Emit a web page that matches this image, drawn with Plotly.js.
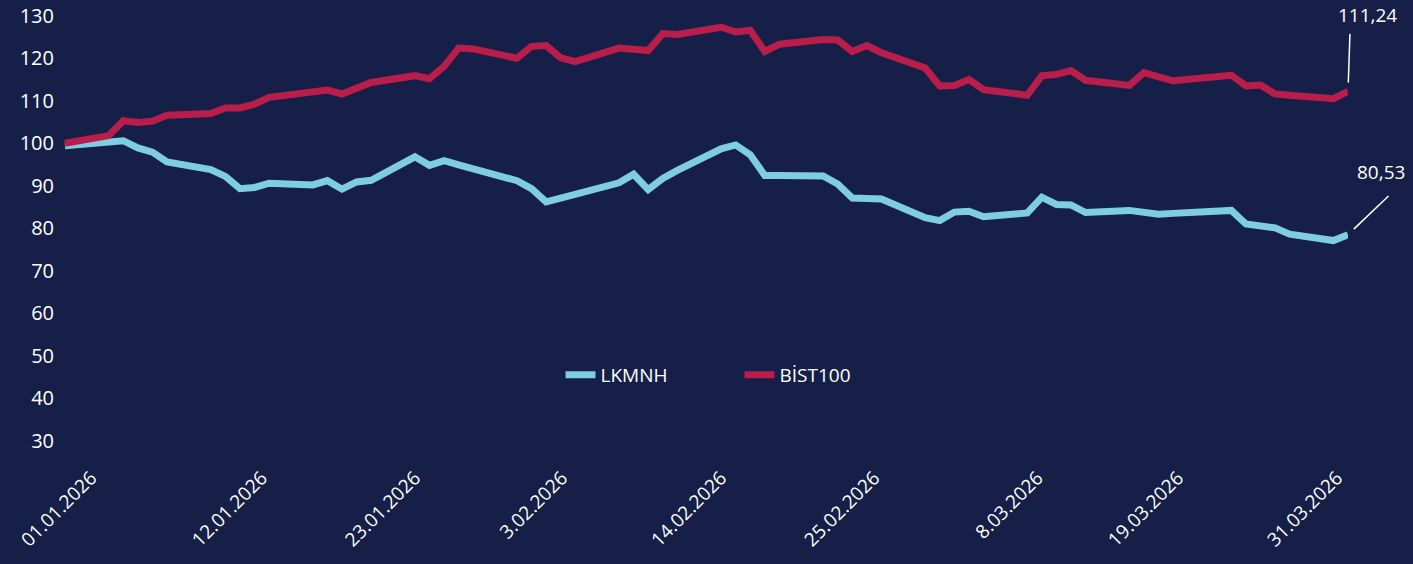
<!DOCTYPE html>
<html>
<head>
<meta charset="utf-8">
<script src="https://cdn.plot.ly/plotly-3.0.1.min.js"></script>
<style>
  html, body { margin: 0; padding: 0; background: #151f48; }
  #myPlot { width: 1413px; height: 564px; }
</style>
</head>
<body>
<div id="myPlot"></div>
<script>
// trading days, 2 Jan - 31 Mar 2026
let dates = [
    '2026-01-02','2026-01-05','2026-01-06','2026-01-07','2026-01-08','2026-01-09',
    '2026-01-12','2026-01-13','2026-01-14','2026-01-15','2026-01-16',
    '2026-01-19','2026-01-20','2026-01-21','2026-01-22','2026-01-23',
    '2026-01-26','2026-01-27','2026-01-28','2026-01-29','2026-01-30',
    '2026-02-02','2026-02-03','2026-02-04','2026-02-05','2026-02-06',
    '2026-02-09','2026-02-10','2026-02-11','2026-02-12','2026-02-13',
    '2026-02-16','2026-02-17','2026-02-18','2026-02-19','2026-02-20',
    '2026-02-23','2026-02-24','2026-02-25','2026-02-26','2026-02-27',
    '2026-03-02','2026-03-03','2026-03-04','2026-03-05','2026-03-06',
    '2026-03-09','2026-03-10','2026-03-11','2026-03-12','2026-03-13',
    '2026-03-16','2026-03-17','2026-03-18','2026-03-19',
    '2026-03-23','2026-03-24','2026-03-25','2026-03-26','2026-03-27',
    '2026-03-30','2026-03-31'
];
let lkmnh = [
    99.4, 100.2, 100.6, 98.9, 97.9, 95.6,
    93.8, 92.2, 89.3, 89.6, 90.6,
    90.2, 91.2, 89.2, 90.9, 91.3,
    96.8, 94.8, 95.9, 94.9, 93.9,
    91.2, 89.3, 86.2, 87.1, 88.0,
    90.7, 92.7, 89.1, 91.7, 93.6,
    98.7, 99.6, 97.3, 92.4, 92.4,
    92.3, 90.4, 87.1, 87.0, 86.9,
    82.5, 81.8, 83.8, 84.0, 82.7,
    83.6, 87.3, 85.6, 85.5, 83.7,
    84.2, 83.8, 83.3, 83.5,
    84.2, 81.0, 80.5, 80.1, 78.6,
    77.1, 78.5
];
let bist100 = [
    100.0, 101.8, 105.3, 104.9, 105.2, 106.6,
    107.0, 108.3, 108.3, 109.2, 110.8,
    112.0, 112.5, 111.6, 112.9, 114.3,
    115.9, 115.2, 118.1, 122.4, 122.2,
    120.0, 122.8, 123.0, 120.1, 119.2,
    122.4, 122.1, 121.8, 125.8, 125.6,
    127.3, 126.2, 126.6, 121.6, 123.3,
    124.4, 124.3, 121.6, 123.0, 121.3,
    117.7, 113.5, 113.6, 115.0, 112.6,
    111.3, 115.9, 116.2, 117.1, 114.8,
    113.6, 116.6, 115.6, 114.7,
    116.0, 113.5, 113.7, 111.6, 111.3,
    110.5, 112.2
];
// where the date labels sit on the axis in the original (evenly spread)
let tickPos = ['2026-01-03 19:00','2026-01-15 12:00','2026-01-26 00:00','2026-02-05 02:00',
               '2026-02-16 00:00','2026-02-26 12:00','2026-03-09 17:00','2026-03-19 08:00',
               '2026-03-30 06:00'];
let tickText = ['01.01.2026','12.01.2026','23.01.2026','3.02.2026','14.02.2026',
                '25.02.2026','8.03.2026','19.03.2026','31.03.2026'];
let lastLabels = ['80,53', '111,24'];

let bg = '#151f48';
let font = 'Open Sans, Noto Sans, sans-serif';
let white = '#ffffff';

var data = [{
    x: dates,
    y: lkmnh,
    name: 'LKMNH',
    mode: 'lines',
    line: {color: '#7ecde0', width: 7},
    hoverinfo: 'skip'
}, {
    x: dates,
    y: bist100,
    name: 'BİST100',
    mode: 'lines',
    line: {color: '#b91e4a', width: 7},
    hoverinfo: 'skip'
}];

let n = dates.length - 1;
let lineStyle = {showarrow: true, arrowhead: 0, arrowwidth: 1.5, arrowcolor: white, text: ''};
var layout = {
    width: 1413,
    height: 564,
    paper_bgcolor: bg,
    plot_bgcolor: bg,
    margin: {l: 55, r: 65, t: 3, b: 102},
    font: {family: font, color: white, size: 20},
    showlegend: true,
    legend: {
        orientation: 'h',
        x: 0.5294, xanchor: 'center',
        y: 0.1895, yanchor: 'middle',
        entrywidth: 134,
        font: {family: font, color: white, size: 19},
        bgcolor: 'rgba(0,0,0,0)'
    },
    xaxis: {
        type: 'date',
        range: ['2026-01-01 07:32', '2026-03-31'],
        tickmode: 'array',
        tickvals: tickPos,
        ticktext: tickText,
        tickangle: -45,
        ticklabeloverflow: 'allow',
        tickfont: {family: font, color: white, size: 19},
        showgrid: false,
        zeroline: false,
        showline: false,
        ticks: ''
    },
    yaxis: {
        range: [25, 133],
        tickmode: 'linear',
        tick0: 30,
        dtick: 10,
        tickfont: {family: font, color: white, size: 20},
        showgrid: false,
        zeroline: false,
        showline: false,
        ticks: ''
    },
    annotations: [
        Object.assign({x: dates[n], y: lkmnh[n], ax: 42, ay: -40, standoff: 8}, lineStyle),
        Object.assign({x: dates[n], y: bist100[n], ax: 2, ay: -59, standoff: 9}, lineStyle),
        {x: dates[n], y: lkmnh[n], text: lastLabels[0], showarrow: false,
         xshift: 33, yshift: 63, font: {family: font, color: white, size: 19}},
        {x: dates[n], y: bist100[n], text: lastLabels[1], showarrow: false,
         xshift: 19, yshift: 76, font: {family: font, color: white, size: 19}}
    ]
};

Plotly.newPlot('myPlot', data, layout, {staticPlot: true});
</script>
</body>
</html>
